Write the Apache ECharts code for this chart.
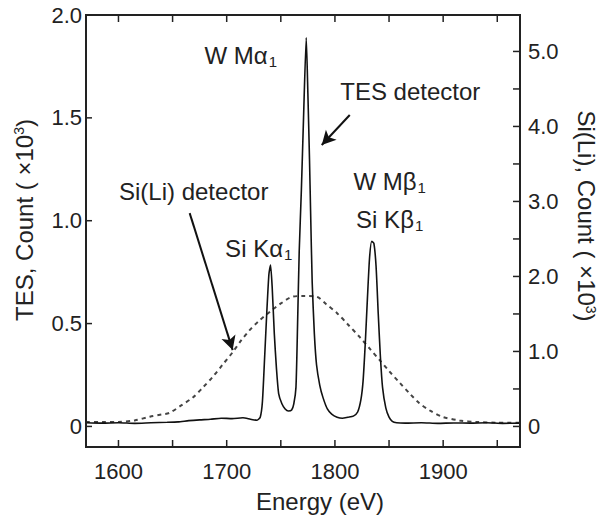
<!DOCTYPE html>
<html>
<head>
<meta charset="utf-8">
<title>TES vs Si(Li) spectrum</title>
<script src="https://cdn.jsdelivr.net/npm/echarts@6/dist/echarts.min.js"></script>
<style>
  html, body { margin: 0; padding: 0; background: #fff; }
  #chart { width: 614px; height: 522px; }
</style>
</head>
<body>
<div id="chart"></div>
<script>
// energy axis (eV)
var xTicks = [1600, 1650, 1700, 1750, 1800, 1850, 1900, 1950]
var xLabels = [1600, 1700, 1800, 1900]
var leftTicks = [0, 0.5, 1.0, 1.5, 2.0]
var rightTicks = [0, 0.5, 1.0, 1.5, 2.0, 2.5, 3.0, 3.5, 4.0, 4.5, 5.0]
var rightLabels = [0, 1.0, 2.0, 3.0, 4.0, 5.0]

// TES detector, count x10^3 (left axis)
var tesEnergy = [1570, 1585, 1600, 1615, 1630, 1645, 1655, 1665, 1675, 1685, 1695, 1705, 1715, 1722, 1728,
  1731, 1733, 1735, 1737, 1739, 1740.5, 1742, 1744, 1746, 1748, 1751, 1754, 1757, 1760, 1762, 1764,
  1765.5, 1767, 1769, 1771, 1773.5, 1775, 1776.5, 1777.5, 1779, 1781, 1783, 1786, 1789, 1793, 1797,
  1802, 1807, 1812, 1817, 1821, 1824, 1826, 1828, 1830, 1832, 1834, 1836, 1838, 1840, 1842, 1844,
  1847, 1850, 1853, 1857, 1865, 1880, 1895, 1910, 1925, 1940, 1955, 1971]
var tesCount = [0.018, 0.016, 0.018, 0.015, 0.018, 0.020, 0.022, 0.028, 0.032, 0.035, 0.040, 0.038, 0.042, 0.035, 0.030,
  0.045, 0.12, 0.33, 0.55, 0.74, 0.785, 0.68, 0.45, 0.28, 0.16, 0.11, 0.085, 0.075, 0.08, 0.11, 0.19,
  0.50, 0.85, 1.15, 1.50, 1.89, 1.62, 1.30, 1.05, 0.70, 0.45, 0.30, 0.20, 0.14, 0.085, 0.06,
  0.045, 0.04, 0.045, 0.05, 0.07, 0.13, 0.22, 0.40, 0.62, 0.82, 0.90, 0.89, 0.78, 0.55, 0.34, 0.19,
  0.09, 0.045, 0.025, 0.018, 0.016, 0.018, 0.015, 0.017, 0.016, 0.018, 0.015, 0.016]

// Si(Li) detector, count x10^3 (right axis)
var siliEnergy = [1570, 1585, 1600, 1615, 1629, 1640, 1647, 1658, 1669, 1678, 1687, 1696, 1705.5, 1713, 1721,
  1730, 1740, 1750, 1761, 1772, 1783, 1792, 1802, 1812, 1823, 1832, 1841, 1850, 1860, 1869, 1878,
  1888, 1899, 1915, 1931, 1950, 1971]
var siliCount = [0.06, 0.06, 0.06, 0.08, 0.13, 0.16, 0.18, 0.28, 0.39, 0.52, 0.66, 0.82, 0.99, 1.14, 1.28,
  1.41, 1.53, 1.64, 1.73, 1.74, 1.73, 1.63, 1.51, 1.36, 1.19, 1.04, 0.89, 0.74, 0.58, 0.44, 0.31,
  0.21, 0.13, 0.08, 0.06, 0.05, 0.05]

var font = 'Liberation Sans, Arial, sans-serif'
var ink = '#222'

function pairs(xs, ys) {
  return xs.map(function (x, i) { return [x, ys[i]] })
}

function tickText(v) {
  return v === 0 ? '0' : Number(v).toFixed(1)
}

function supRich() {
  return { sup: { fontSize: 14, fontFamily: font, color: ink, verticalAlign: 'top', lineHeight: 12 } }
}

// subscripted annotation text
var annoRich = {
  a: { fontSize: 24, fontFamily: font, color: ink, lineHeight: 28 },
  s: { fontSize: 15, fontFamily: font, color: ink, lineHeight: 12, verticalAlign: 'bottom', padding: [0, 0, 0, 1] }
}

function anno(x, y, text) {
  return { coord: [x, y], label: { formatter: text } }
}

// axes only carry the scales and the titles; frame, ticks and tick labels are drawn below
function axis(extra) {
  return Object.assign({
    type: 'value',
    axisLine: { show: false },
    axisTick: { show: false },
    axisLabel: { show: false },
    splitLine: { show: false }
  }, extra)
}

var option = {
  animation: false,
  backgroundColor: '#fff',
  grid: { left: 86, right: 94, top: 15, bottom: 75 },
  xAxis: [
    axis({
      min: 1570, max: 1971, position: 'bottom',
      name: 'Energy (eV)', nameLocation: 'middle', nameGap: 42,
      nameTextStyle: { fontSize: 24, fontFamily: font, color: ink, padding: [0, 0, 0, 34] }
    })
  ],
  yAxis: [
    axis({
      min: -0.1, max: 2.0, position: 'left',
      name: 'TES, Count ( ×10{sup|3})', nameLocation: 'middle', nameGap: 50, nameRotate: 90,
      nameTextStyle: { fontSize: 24, fontFamily: font, color: ink, padding: [0, 0, 0, 22], rich: supRich() }
    }),
    axis({
      min: -0.274, max: 5.486, position: 'right',
      name: 'Si(Li), Count ( ×10{sup|3})', nameLocation: 'middle', nameGap: 54, nameRotate: -90,
      nameTextStyle: { fontSize: 24, fontFamily: font, color: ink, padding: [0, 30, 0, 0], rich: supRich() }
    })
  ],
  series: [
    {
      name: 'Si(Li) detector',
      type: 'line',
      xAxisIndex: 0,
      yAxisIndex: 1,
      data: pairs(siliEnergy, siliCount),
      showSymbol: false,
      smooth: 0.3,
      lineStyle: { color: '#444', width: 2, type: [4, 4] },
      z: 2
    },
    {
      name: 'TES detector',
      type: 'line',
      xAxisIndex: 0,
      yAxisIndex: 0,
      data: pairs(tesEnergy, tesCount),
      showSymbol: false,
      smooth: 0.2,
      lineStyle: { color: '#111', width: 1.6 },
      z: 3,
      // peak labels
      markPoint: {
        symbol: 'circle',
        symbolSize: 1,
        itemStyle: { color: 'rgba(0,0,0,0)' },
        label: { show: true, position: 'inside', fontSize: 24, fontFamily: font, color: ink, rich: annoRich },
        data: [
          anno(1713, 1.805, '{a|W Mα}{s|1}'),
          anno(1869.6, 1.63, '{a|TES detector}'),
          anno(1850.6, 1.193, '{a|W Mβ}{s|1}'),
          anno(1850.6, 1.008, '{a|Si Kβ}{s|1}'),
          anno(1729.6, 0.867, '{a|Si Kα}{s|1}'),
          anno(1669.5, 1.144, '{a|Si(Li) detector}')
        ]
      },
      // pointer arrows
      markLine: {
        silent: true,
        symbol: ['none', 'arrow'],
        symbolSize: [11, 14],
        label: { show: false },
        lineStyle: { color: '#111', width: 2, type: 'solid' },
        data: [
          [{ coord: [1813.7, 1.514] }, { coord: [1787.8, 1.368] }],
          [{ coord: [1665.8, 1.037] }, { coord: [1705.5, 0.371] }]
        ]
      }
    }
  ]
}

var chart = echarts.init(document.querySelector('#chart'), null, { renderer: 'svg' })
chart.setOption(option, true)

// frame, inward ticks and tick labels, placed through the chart's own scales
function px(v) { return chart.convertToPixel({ xAxisIndex: 0 }, v) }
function pyL(v) { return chart.convertToPixel({ yAxisIndex: 0 }, v) }
function pyR(v) { return chart.convertToPixel({ yAxisIndex: 1 }, v) }

function tick(x1, y1, x2, y2) {
  return { type: 'line', z: 10, silent: true, shape: { x1: x1, y1: y1, x2: x2, y2: y2 }, style: { stroke: ink, lineWidth: 1.5 } }
}
function tickLabel(x, y, text, align, vAlign) {
  return {
    type: 'text', z: 10, silent: true, x: x, y: y,
    style: { text: text, fontSize: 22, fontFamily: font, fill: ink, align: align, verticalAlign: vAlign }
  }
}

var gridLeft = px(1570)
var gridRight = px(1971)
var gridTop = pyL(2.0)
var gridBottom = pyL(-0.1)
var marks = [{
  type: 'rect', z: 10, silent: true,
  shape: { x: gridLeft, y: gridTop, width: gridRight - gridLeft, height: gridBottom - gridTop },
  style: { fill: 'none', stroke: ink, lineWidth: 2 }
}]
xTicks.forEach(function (v) {
  var x = px(v)
  marks.push(tick(x, gridBottom, x, gridBottom - 7))
  marks.push(tick(x, gridTop, x, gridTop + 7))
})
xLabels.forEach(function (v) {
  marks.push(tickLabel(px(v), gridBottom + 13, String(v), 'center', 'top'))
})
leftTicks.forEach(function (v) {
  var y = pyL(v)
  marks.push(tick(gridLeft, y, gridLeft + 6, y))
  marks.push(tickLabel(gridLeft - 4, y, tickText(v), 'right', 'middle'))
})
rightTicks.forEach(function (v) {
  var y = pyR(v)
  marks.push(tick(gridRight, y, gridRight - 7, y))
})
rightLabels.forEach(function (v) {
  marks.push(tickLabel(gridRight + 8, pyR(v), tickText(v), 'left', 'middle'))
})
chart.setOption({ graphic: marks })
</script>
</body>
</html>
